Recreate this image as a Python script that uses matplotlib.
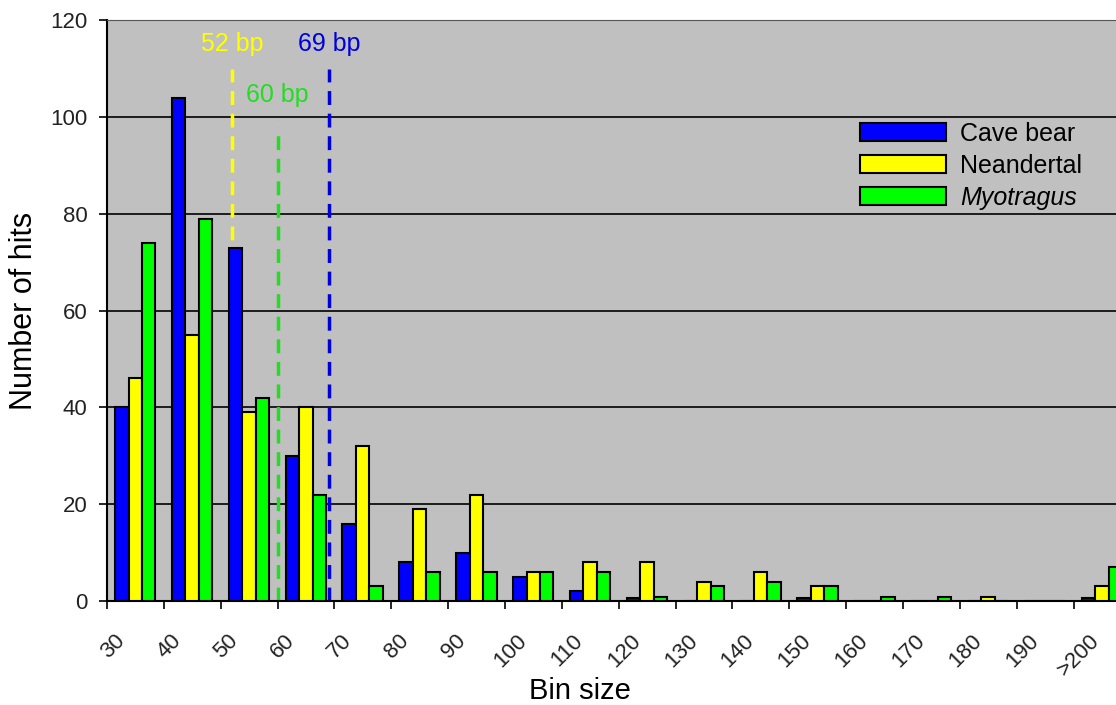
import numpy as np
import matplotlib
matplotlib.use("Agg")
import matplotlib.pyplot as plt
from matplotlib.transforms import ScaledTranslation

plt.rcParams['font.family'] = ['Liberation Sans', 'DejaVu Sans']

# bin labels and counts per taxon
bins = ['30', '40', '50', '60', '70', '80', '90', '100', '110', '120',
        '130', '140', '150', '160', '170', '180', '190', '>200']
cave_bear = [40, 104, 73, 30, 16, 8, 10, 5, 2, 0.6, 0, 0, 0.6, 0, 0, 0, 0, 0.6]
neandertal = [46, 55, 39, 40, 32, 19, 22, 6, 8, 8, 4, 6, 3, 0, 0, 0.8, 0, 3]
myotragus = [74, 79, 42, 22, 3, 6, 6, 6, 6, 0.8, 3, 4, 3, 0.8, 0.8, 0, 0, 7]

# mean fragment lengths (bp) shown as dashed lines
mean_bp = [52, 60, 69]
mean_colors = ['#FFFF00', '#22DD22', '#0000DD']
mean_top = [110, 98, 110]
mean_label_y = [115, 104.5, 115]

fig = plt.figure(figsize=(11.16, 7.05), dpi=100)
ax = fig.add_axes([0.0959, 0.1475, 0.917, 0.824])
ax.set_facecolor('#C0C0C0')

x = np.arange(len(bins))
w = 0.237
series = [(cave_bear, '#0000FF', 'Cave bear'),
          (neandertal, '#FFFF00', 'Neandertal'),
          (myotragus, '#00FF00', 'Myotragus')]
for i, (vals, col, lab) in enumerate(series):
    ax.bar(x + 0.26 + i * w, vals, width=w, color=col,
           edgecolor='black', linewidth=1.5, label=lab, zorder=3)

ax.set_xlim(0, len(bins))
ax.set_ylim(0, 120)
ax.set_yticks(range(0, 121, 20))
ax.yaxis.grid(True, color='black', linewidth=1.2, zorder=0)
ax.set_xticks(x)
ax.set_xticklabels(bins, rotation=45, ha='center', fontsize=16, color='#222222')
ax.tick_params(axis='x', length=6, width=1.2, pad=15)
ax.tick_params(axis='y', length=6, width=1.2, pad=8, labelsize=16, labelcolor='#222222')
# nudge rotated labels a little to the right, like the original
for lbl in ax.get_xticklabels():
    lbl.set_transform(lbl.get_transform() + ScaledTranslation(4 / 72, 0, fig.dpi_scale_trans))
for s in ['left', 'bottom']:
    ax.spines[s].set_linewidth(1.5)
ax.spines['top'].set_color('#555555')
ax.spines['right'].set_visible(False)

for bp, col, top, ly in zip(mean_bp, mean_colors, mean_top, mean_label_y):
    xp = (bp - 30) / 10
    ax.plot([xp, xp], [0, top], color=col, linestyle=(0, (4, 2.5)), linewidth=2.5, zorder=2.5)
    ax.text(xp, ly, f'{bp} bp', color=col, fontsize=18, ha='center', va='center', zorder=5)

ax.set_xlabel('Bin size', fontsize=21)
ax.xaxis.set_label_coords(0.4625, -0.13)
ax.set_ylabel('Number of hits', fontsize=22)
ax.yaxis.set_label_coords(-0.066, 0.5)

leg = ax.legend(loc='upper left', bbox_to_anchor=(0.714, 0.864), frameon=False,
                fontsize=18, handlelength=3.44, handleheight=0.76,
                labelspacing=0.32, handletextpad=0.56)
leg.get_texts()[2].set_style('italic')

fig.savefig('out.png', dpi=100)
